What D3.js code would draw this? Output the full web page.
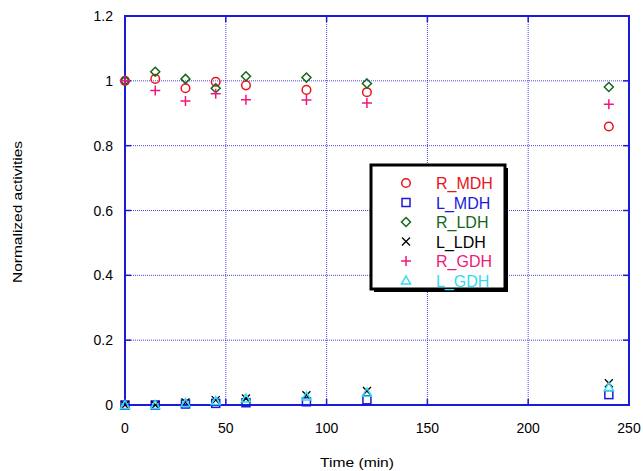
<!DOCTYPE html>
<html>
<head>
<meta charset="utf-8">
<script src="https://cdn.jsdelivr.net/npm/d3@7"></script>
<style>
  body { margin: 0; background: #fff; }
  text { font-family: Arial, "Liberation Sans", sans-serif; }
</style>
</head>
<body>
<div id="plot"></div>
<script>
const width = 643;
const height = 471;
const margin = { left: 125, right: 14, top: 16, bottom: 66 };

// Data
const times = [0, 15, 30, 45, 60, 90, 120, 240];
const rMDH = [1.0, 1.006, 0.977, 0.997, 0.986, 0.972, 0.965, 0.859];
const lMDH = [0.0, 0.0, 0.003, 0.005, 0.007, 0.01, 0.016, 0.032];
const rLDH = [1.0, 1.028, 1.006, 0.977, 1.014, 1.010, 0.992, 0.981];
const lLDH = [0.0, 0.0, 0.008, 0.015, 0.02, 0.03, 0.043, 0.067];
const rGDH = [1.0, 0.970, 0.938, 0.960, 0.942, 0.941, 0.932, 0.928];
const lGDH = [0.0, 0.0, 0.006, 0.012, 0.02, 0.026, 0.038, 0.055];
const xTicks = [0, 50, 100, 150, 200, 250];
const yTicks = [0, 0.2, 0.4, 0.6, 0.8, 1, 1.2];

const series = [
  { name: "R_MDH", values: rMDH, color: "#e8141c", shape: "circle" },
  { name: "L_MDH", values: lMDH, color: "#1a1ad8", shape: "square" },
  { name: "R_LDH", values: rLDH, color: "#16661a", shape: "diamond" },
  { name: "L_LDH", values: lLDH, color: "#000000", shape: "cross" },
  { name: "R_GDH", values: rGDH, color: "#f0187a", shape: "plus" },
  { name: "L_GDH", values: lGDH, color: "#30dcf0", shape: "triangle" }
];

const svg = d3.select("#plot").append("svg").attr("width", width).attr("height", height);

const x = d3.scaleLinear().domain([0, 250]).range([margin.left, width - margin.right]);
const y = d3.scaleLinear().domain([0, 1.2]).range([height - margin.bottom, margin.top]);

const gridColor = "#1a1ad8";

// grid lines (dotted)
svg.append("g").selectAll("line").data(xTicks.slice(1, -1)).enter().append("line")
  .attr("x1", d => x(d)).attr("x2", d => x(d))
  .attr("y1", y(1.2)).attr("y2", y(0))
  .attr("stroke", gridColor).attr("stroke-width", 1).attr("stroke-dasharray", "1,1").attr("opacity", 0.8);
svg.append("g").selectAll("line").data(yTicks.slice(1, -1)).enter().append("line")
  .attr("x1", x(0)).attr("x2", x(250))
  .attr("y1", d => y(d)).attr("y2", d => y(d))
  .attr("stroke", gridColor).attr("stroke-width", 1).attr("stroke-dasharray", "1,1").attr("opacity", 0.8);

// inward ticks on all four sides
const tk = 6;
xTicks.forEach(t => {
  svg.append("line").attr("x1", x(t)).attr("x2", x(t)).attr("y1", y(0)).attr("y2", y(0) - tk)
    .attr("stroke", gridColor).attr("stroke-width", 1.5);
  svg.append("line").attr("x1", x(t)).attr("x2", x(t)).attr("y1", y(1.2)).attr("y2", y(1.2) + tk)
    .attr("stroke", gridColor).attr("stroke-width", 1.5);
});
yTicks.forEach(t => {
  svg.append("line").attr("x1", x(0)).attr("x2", x(0) + tk).attr("y1", y(t)).attr("y2", y(t))
    .attr("stroke", gridColor).attr("stroke-width", 1.5);
  svg.append("line").attr("x1", x(250)).attr("x2", x(250) - tk).attr("y1", y(t)).attr("y2", y(t))
    .attr("stroke", gridColor).attr("stroke-width", 1.5);
});

// frame
svg.append("rect")
  .attr("x", x(0)).attr("y", y(1.2))
  .attr("width", x(250) - x(0)).attr("height", y(0) - y(1.2))
  .attr("fill", "none").attr("stroke", gridColor).attr("stroke-width", 2);

// tick labels
svg.append("g").selectAll("text").data(xTicks).enter().append("text")
  .attr("x", d => x(d)).attr("y", y(0) + 28)
  .attr("text-anchor", "middle").attr("font-size", 14).text(d => d);
svg.append("g").selectAll("text").data(yTicks).enter().append("text")
  .attr("x", x(0) - 12).attr("y", d => y(d) + 5)
  .attr("text-anchor", "end").attr("font-size", 14).text(d => d);

// axis titles
svg.append("text").attr("x", 357).attr("y", 467)
  .attr("text-anchor", "middle").attr("font-size", 13)
  .attr("textLength", 74).attr("lengthAdjust", "spacingAndGlyphs").text("Time (min)");
svg.append("text")
  .attr("transform", "translate(22," + 212 + ") rotate(-90)")
  .attr("text-anchor", "middle").attr("font-size", 13)
  .attr("textLength", 142).attr("lengthAdjust", "spacingAndGlyphs").text("Normalized activities");

// marker drawing
function drawMarker(g, shape, color, cx, cy) {
  if (shape === "circle") {
    g.append("circle").attr("cx", cx).attr("cy", cy).attr("r", 4.3)
      .attr("fill", "none").attr("stroke", color).attr("stroke-width", 1.5);
  } else if (shape === "square") {
    g.append("rect").attr("x", cx - 4).attr("y", cy - 4).attr("width", 8).attr("height", 8)
      .attr("fill", "none").attr("stroke", color).attr("stroke-width", 1.5);
  } else if (shape === "diamond") {
    g.append("path").attr("d", `M${cx},${cy - 4.5}L${cx + 4.5},${cy}L${cx},${cy + 4.5}L${cx - 4.5},${cy}Z`)
      .attr("fill", "none").attr("stroke", color).attr("stroke-width", 1.5);
  } else if (shape === "cross") {
    g.append("path").attr("d", `M${cx - 4},${cy - 4}L${cx + 4},${cy + 4}M${cx - 4},${cy + 4}L${cx + 4},${cy - 4}`)
      .attr("stroke", color).attr("stroke-width", 1.3);
  } else if (shape === "plus") {
    g.append("path").attr("d", `M${cx - 5},${cy}L${cx + 5},${cy}M${cx},${cy - 5}L${cx},${cy + 5}`)
      .attr("stroke", color).attr("stroke-width", 1.5);
  } else if (shape === "triangle") {
    g.append("path").attr("d", `M${cx},${cy - 4.5}L${cx + 4.5},${cy + 3.5}L${cx - 4.5},${cy + 3.5}Z`)
      .attr("fill", "none").attr("stroke", color).attr("stroke-width", 1.5);
  }
}

// points
const pts = svg.append("g");
series.forEach(s => {
  s.values.forEach((v, i) => drawMarker(pts, s.shape, s.color, x(times[i]), y(v)));
});

// legend
const lg = svg.append("g");
const lx = 371, ly = 165, lw = 134, lh = 124;
lg.append("rect").attr("x", lx + 3).attr("y", ly + 3).attr("width", lw).attr("height", lh).attr("fill", "#000");
lg.append("rect").attr("x", lx).attr("y", ly).attr("width", lw).attr("height", lh)
  .attr("fill", "#fff").attr("stroke", "#000").attr("stroke-width", 3);
series.forEach((s, i) => {
  const ry = 183 + i * 19.5;
  drawMarker(lg, s.shape, s.color, 406, ry);
  lg.append("text").attr("x", 436).attr("y", ry + 6).attr("font-size", 16)
    .attr("fill", s.color).text(s.name);
});
</script>
</body>
</html>
